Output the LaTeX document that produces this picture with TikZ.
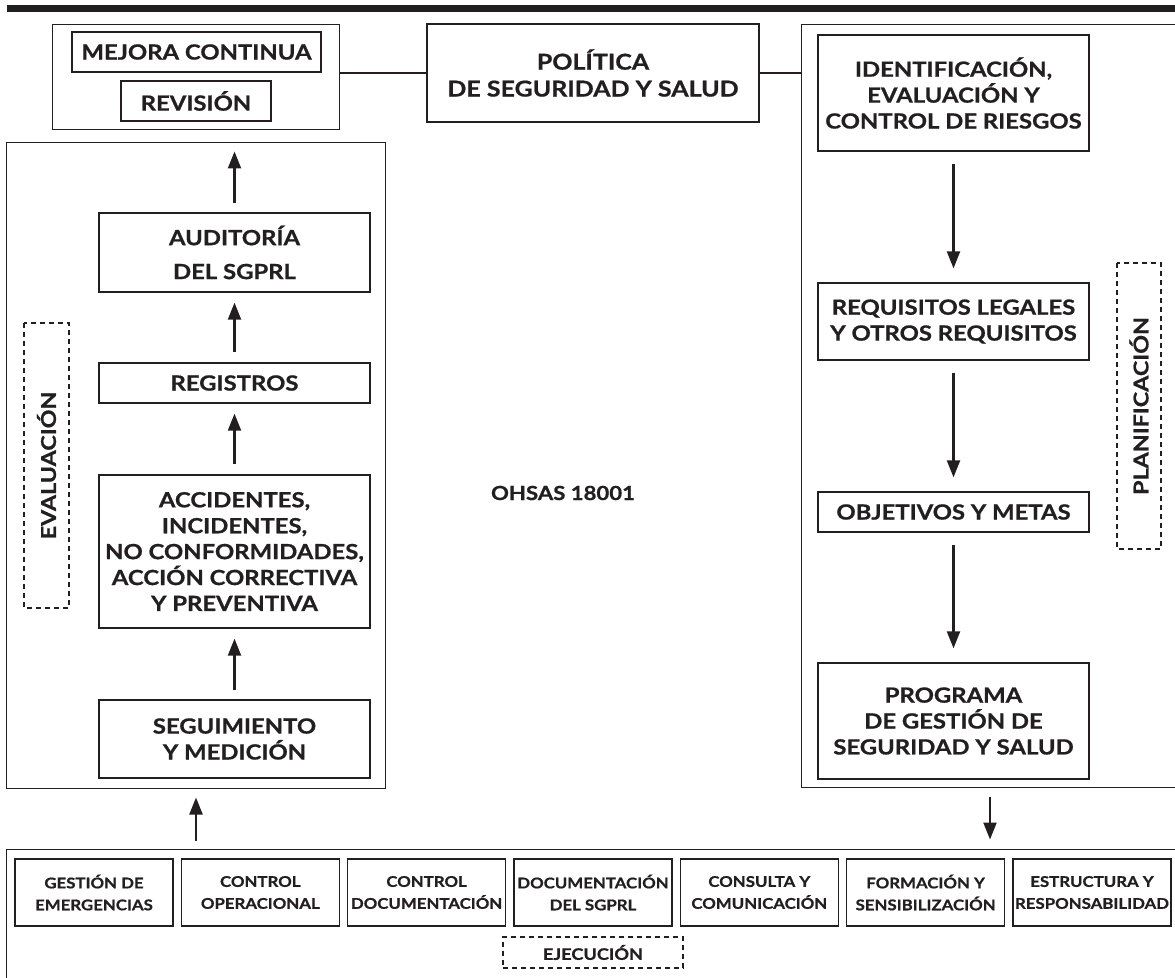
\documentclass[tikz,border=0pt]{standalone}
\usepackage{fontspec}
\setmainfont{Lato}[BoldFeatures={FakeStretch=1.14,FakeBold=0.8}]
\usepackage{xcolor}
\usepackage{tikz}
\usetikzlibrary{arrows.meta,positioning}
\definecolor{ink}{RGB}{35,31,32}
\tikzset{
  frame/.style ={draw=ink, line width=1bp, inner sep=0pt},
  stage/.style ={draw=ink, line width=1.3bp, align=center, inner sep=0pt, text=ink,
                 font=\bfseries\fontsize{21}{26}\selectfont, minimum width=271bp},
  task/.style  ={draw=ink, line width=1.3bp, align=center, inner sep=0pt, text=ink,
                 font=\bfseries\fontsize{14.8}{22}\selectfont, minimum width=158bp, minimum height=67bp},
  phase/.style ={draw=ink, dash pattern=on 5bp off 4bp, line width=1.3bp, inner sep=0pt, text=ink, align=center},
  flow/.style  ={-{Triangle[length=17bp,width=13bp]}, line width=2.2bp, draw=ink},
  link/.style  ={line width=1.3bp, draw=ink}
}

\begin{document}
\begin{tikzpicture}[x=1bp, y=-1bp]
  \clip[use as bounding box] (0,0) rectangle (1175,978);
  \fill[white] (0,0) rectangle (1175,978);
  \fill[ink] (7,5) rectangle (1175,12);
  % top row
  \node[frame, minimum width=286bp, minimum height=105bp] (mejout) at (196,76.5) {};
  \node[stage, minimum width=249bp, minimum height=40bp] (mejora) at (196.5,52) {MEJORA CONTINUA};
  \node[stage, minimum width=150bp, minimum height=40bp] (revis) at (196,101) {REVISIÓN};
  \node[stage, minimum width=332bp, minimum height=98bp, font=\bfseries\fontsize{22}{27}\selectfont] (polit) at (593,73) {POLÍTICA\\DE SEGURIDAD Y SALUD};
  % left column: evaluacion
  \node[frame, minimum width=378bp, minimum height=645bp] (evalbox) at (196,465.5) {};
  \node[stage, minimum height=79bp] (audit) at (234.5,252.5) {AUDITORÍA\\[8bp]DEL SGPRL};
  \node[stage, minimum height=40bp] (regist) at (234.5,383) {REGISTROS};
  \node[stage, minimum height=153bp] (accid) at (234.5,551.5) {ACCIDENTES,\\INCIDENTES,\\NO CONFORMIDADES,\\ACCIÓN CORRECTIVA\\Y PREVENTIVA};
  \node[stage, minimum height=78bp] (seguim) at (234.5,739) {SEGUIMIENTO\\Y MEDICIÓN};
  \node[phase, rotate=90, minimum width=285bp, minimum height=45bp, font=\bfseries\fontsize{20.5}{22}\selectfont] (evallbl) at (46.5,465.5) {EVALUACIÓN};
  % right column: planificacion
  \node[frame, minimum width=378bp, minimum height=762bp] (planbox) at (990,406) {};
  \node[stage, minimum height=116bp] (ident) at (953.5,93) {IDENTIFICACIÓN,\\EVALUACIÓN Y\\CONTROL DE RIESGOS};
  \node[stage, minimum height=77bp] (requis) at (953.5,321.5) {REQUISITOS LEGALES\\Y OTROS REQUISITOS};
  \node[stage, minimum height=40bp] (objet) at (953.5,512) {OBJETIVOS Y METAS};
  \node[stage, minimum height=116bp] (progr) at (953.5,721) {PROGRAMA\\DE GESTIÓN DE\\SEGURIDAD Y SALUD};
  \node[phase, rotate=90, minimum width=286bp, minimum height=44bp, font=\bfseries\fontsize{20.5}{22}\selectfont] (planlbl) at (1139,406) {PLANIFICACIÓN};
  \node[text=ink, font=\bfseries\fontsize{19.5}{22}\selectfont] (ohsas) at (563,493) {OHSAS 18001};
  % bottom row: ejecucion
  \node[frame, minimum width=1172bp, minimum height=141bp] (ejecbox) at (593,919.5) {};
  \node[task] (emerg) at (94,892.5) {GESTIÓN DE\\EMERGENCIAS};
  \node[task] (operac) at (260.3,892.5) {CONTROL\\OPERACIONAL};
  \node[task] (ctrldoc) at (426.6,892.5) {CONTROL\\DOCUMENTACIÓN};
  \node[task] (docsg) at (593,892.5) {DOCUMENTACIÓN\\DEL SGPRL};
  \node[task] (consul) at (759.3,892.5) {CONSULTA Y\\COMUNICACIÓN};
  \node[task] (formac) at (925.6,892.5) {FORMACIÓN Y\\SENSIBILIZACIÓN};
  \node[task] (estruc) at (1092,892.5) {ESTRUCTURA Y\\RESPONSABILIDAD};
  \node[phase, minimum width=180bp, minimum height=31bp, font=\bfseries\fontsize{16}{18}\selectfont] (ejeclbl) at (593,952.5) {EJECUCIÓN};
  % connectors
  \draw[link] (polit.west -| mejout.east) -- (polit.west);
  \draw[link] (polit.east) -- (polit.east -| planbox.west);
  \draw[flow, shorten <=9bp, shorten >=10bp] (seguim) -- (accid);
  \draw[flow, shorten <=10bp, shorten >=10bp] (accid) -- (regist);
  \draw[flow, shorten <=10bp, shorten >=10bp] (regist) -- (audit);
  \draw[flow, shorten <=9bp, shorten >=9bp] (audit.north) -- (audit.north |- evalbox.north);
  \draw[flow, shorten <=12bp, shorten >=14bp] (ident) -- (requis);
  \draw[flow, shorten <=12bp, shorten >=14bp] (requis) -- (objet);
  \draw[flow, shorten <=12bp, shorten >=14bp] (objet) -- (progr);
  \draw[flow, shorten <=8bp, shorten >=9bp] (ejecbox.north -| evalbox.south) -- (evalbox.south);
  \draw[flow, shorten <=9bp, shorten >=9bp] (planbox.south) -- (planbox.south |- ejecbox.north);
\end{tikzpicture}
\end{document}
